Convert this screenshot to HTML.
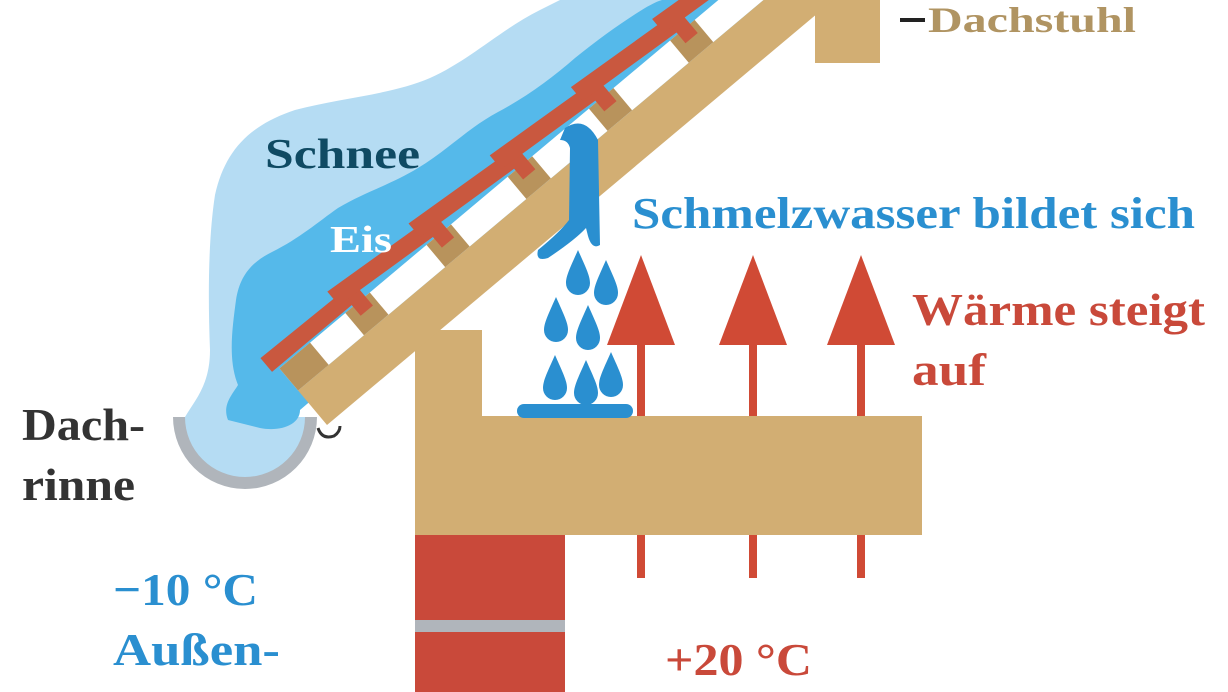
<!DOCTYPE html>
<html><head><meta charset="utf-8"><style>
html,body{margin:0;padding:0;background:#fff;}
svg{display:block;}
text{font-family:"Liberation Serif",serif;font-weight:bold;}
</style></head><body>
<svg width="1228" height="692" viewBox="0 0 1228 692" xmlns="http://www.w3.org/2000/svg">
<rect width="1228" height="692" fill="#fff"/>
<path d="M175,417 A70,70 0 0 0 315,417 Z" fill="#b5dcf3"/>
<path d="M173,417 A72,72 0 0 0 317,417 L305,417 A60,60 0 0 1 185,417 Z" fill="#b0b5bb"/>
<path d="M185,417 C195,400 210,385 210,350 C208,300 208,240 215,195 C225,150 250,125 295,110 C340,98 390,95 430,78 C470,60 500,30 540,10 L560,0 L760,0 L300,400 C300,415 290,420 270,420 Z" fill="#b5dcf3"/>
<path d="M228,420 C222,405 232,395 238,385 C228,360 232,330 236,300 C240,275 252,262 272,252 C300,238 318,222 338,208 C365,192 392,184 418,168 C448,150 468,128 498,112 C528,96 552,78 575,58 C600,38 622,22 645,8 C652,4 658,1 662,0 L780,0 L300,410 C300,425 280,432 260,428 Z" fill="#55b9ea"/>
<g fill="#d04a35">
<rect x="637" y="330" width="8" height="248"/><polygon points="641,255 607,345 675,345"/>
<rect x="749" y="330" width="8" height="248"/><polygon points="753,255 719,345 787,345"/>
<rect x="857" y="330" width="8" height="248"/><polygon points="861,255 827,345 895,345"/>
</g>
<rect x="415" y="330" width="67" height="90" fill="#d2ae73"/>
<rect x="415" y="416" width="507" height="119" fill="#d2ae73"/>
<rect x="815" y="0" width="65" height="63" fill="#d2ae73"/>
<rect x="415" y="535" width="150" height="157" fill="#c9493a"/>
<rect x="415" y="620" width="150" height="12" fill="#b0b5bb"/>
<g transform="translate(327,425) rotate(-40)">
<rect x="0" y="-45" width="760" height="45" fill="#d2ae73"/>
<rect x="0" y="-74" width="760" height="29" fill="#fff"/>
<g fill="#b8935c">
<rect x="0" y="-74" width="40" height="29"/>
<rect x="86" y="-74" width="32" height="29"/>
<rect x="192" y="-74" width="32" height="29"/>
<rect x="298" y="-74" width="32" height="29"/>
<rect x="404" y="-74" width="32" height="29"/>
<rect x="510" y="-74" width="32" height="29"/>
<rect x="616" y="-74" width="32" height="29"/>
</g>
<g fill="#c9583f">
<polygon points="-8,-94 112,-92 112,-62 96,-62 96,-76 -8,-76"/>
<polygon points="86,-102 218,-92 218,-62 202,-62 202,-76 86,-84"/>
<polygon points="192,-102 324,-92 324,-62 308,-62 308,-76 192,-84"/>
<polygon points="298,-102 430,-92 430,-62 414,-62 414,-76 298,-84"/>
<polygon points="404,-102 536,-92 536,-62 520,-62 520,-76 404,-84"/>
<polygon points="510,-102 642,-92 642,-62 626,-62 626,-76 510,-84"/>
<polygon points="616,-102 760,-92 760,-76 616,-84"/>
</g>
</g>
<path d="M318,428 Q322,440 334,436 Q340,432 340,426" fill="none" stroke="#333" stroke-width="3"/>
<path d="M565,128 Q585,115 598,140 L600,245 Q592,250 588,236 L586,228 Q575,240 548,258 Q535,262 538,250 Q560,232 569,220 L570,148 Q568,140 560,140 Z" fill="#2a8fd0"/>
<g fill="#2a8fd0">
<path d="M578,250 C586,268 590,276 590,283 A12,12 0 0 1 566,283 C566,276 570,268 578,250 Z"/>
<path d="M606,260 C614,278 618,286 618,293 A12,12 0 0 1 594,293 C594,286 598,278 606,260 Z"/>
<path d="M556,297 C564,315 568,323 568,330 A12,12 0 0 1 544,330 C544,323 548,315 556,297 Z"/>
<path d="M588,305 C596,323 600,331 600,338 A12,12 0 0 1 576,338 C576,331 580,323 588,305 Z"/>
<path d="M555,355 C563,373 567,381 567,388 A12,12 0 0 1 543,388 C543,381 547,373 555,355 Z"/>
<path d="M586,360 C594,378 598,386 598,393 A12,12 0 0 1 574,393 C574,386 578,378 586,360 Z"/>
<path d="M611,352 C619,370 623,378 623,385 A12,12 0 0 1 599,385 C599,378 603,370 611,352 Z"/>
<rect x="517" y="404" width="116" height="14" rx="7"/>
</g>
<rect x="900" y="18" width="25" height="4" fill="#222"/>
<text x="928" y="32" font-size="36" fill="#b09462" textLength="208" lengthAdjust="spacingAndGlyphs">Dachstuhl</text>
<text x="265" y="168" font-size="42" fill="#0f4a63" textLength="155" lengthAdjust="spacingAndGlyphs">Schnee</text>
<text x="330" y="252" font-size="38" fill="#fff" textLength="62" lengthAdjust="spacingAndGlyphs">Eis</text>
<text x="632" y="228" font-size="44" fill="#2a8fd0" textLength="563" lengthAdjust="spacingAndGlyphs">Schmelzwasser bildet sich</text>
<text x="912" y="325" font-size="46" fill="#c9493a" textLength="293" lengthAdjust="spacingAndGlyphs">Wärme steigt</text>
<text x="912" y="385" font-size="46" fill="#c9493a" textLength="74" lengthAdjust="spacingAndGlyphs">auf</text>
<text x="22" y="440" font-size="46" fill="#333" textLength="123" lengthAdjust="spacingAndGlyphs">Dach-</text>
<text x="22" y="500" font-size="46" fill="#333" textLength="113" lengthAdjust="spacingAndGlyphs">rinne</text>
<text x="113" y="605" font-size="46" fill="#2a8fd0" textLength="145" lengthAdjust="spacingAndGlyphs">−10 °C</text>
<text x="113" y="665" font-size="46" fill="#2a8fd0" textLength="167" lengthAdjust="spacingAndGlyphs">Außen-</text>
<text x="665" y="675" font-size="46" fill="#c9493a" textLength="147" lengthAdjust="spacingAndGlyphs">+20 °C</text>
</svg>
</body></html>
